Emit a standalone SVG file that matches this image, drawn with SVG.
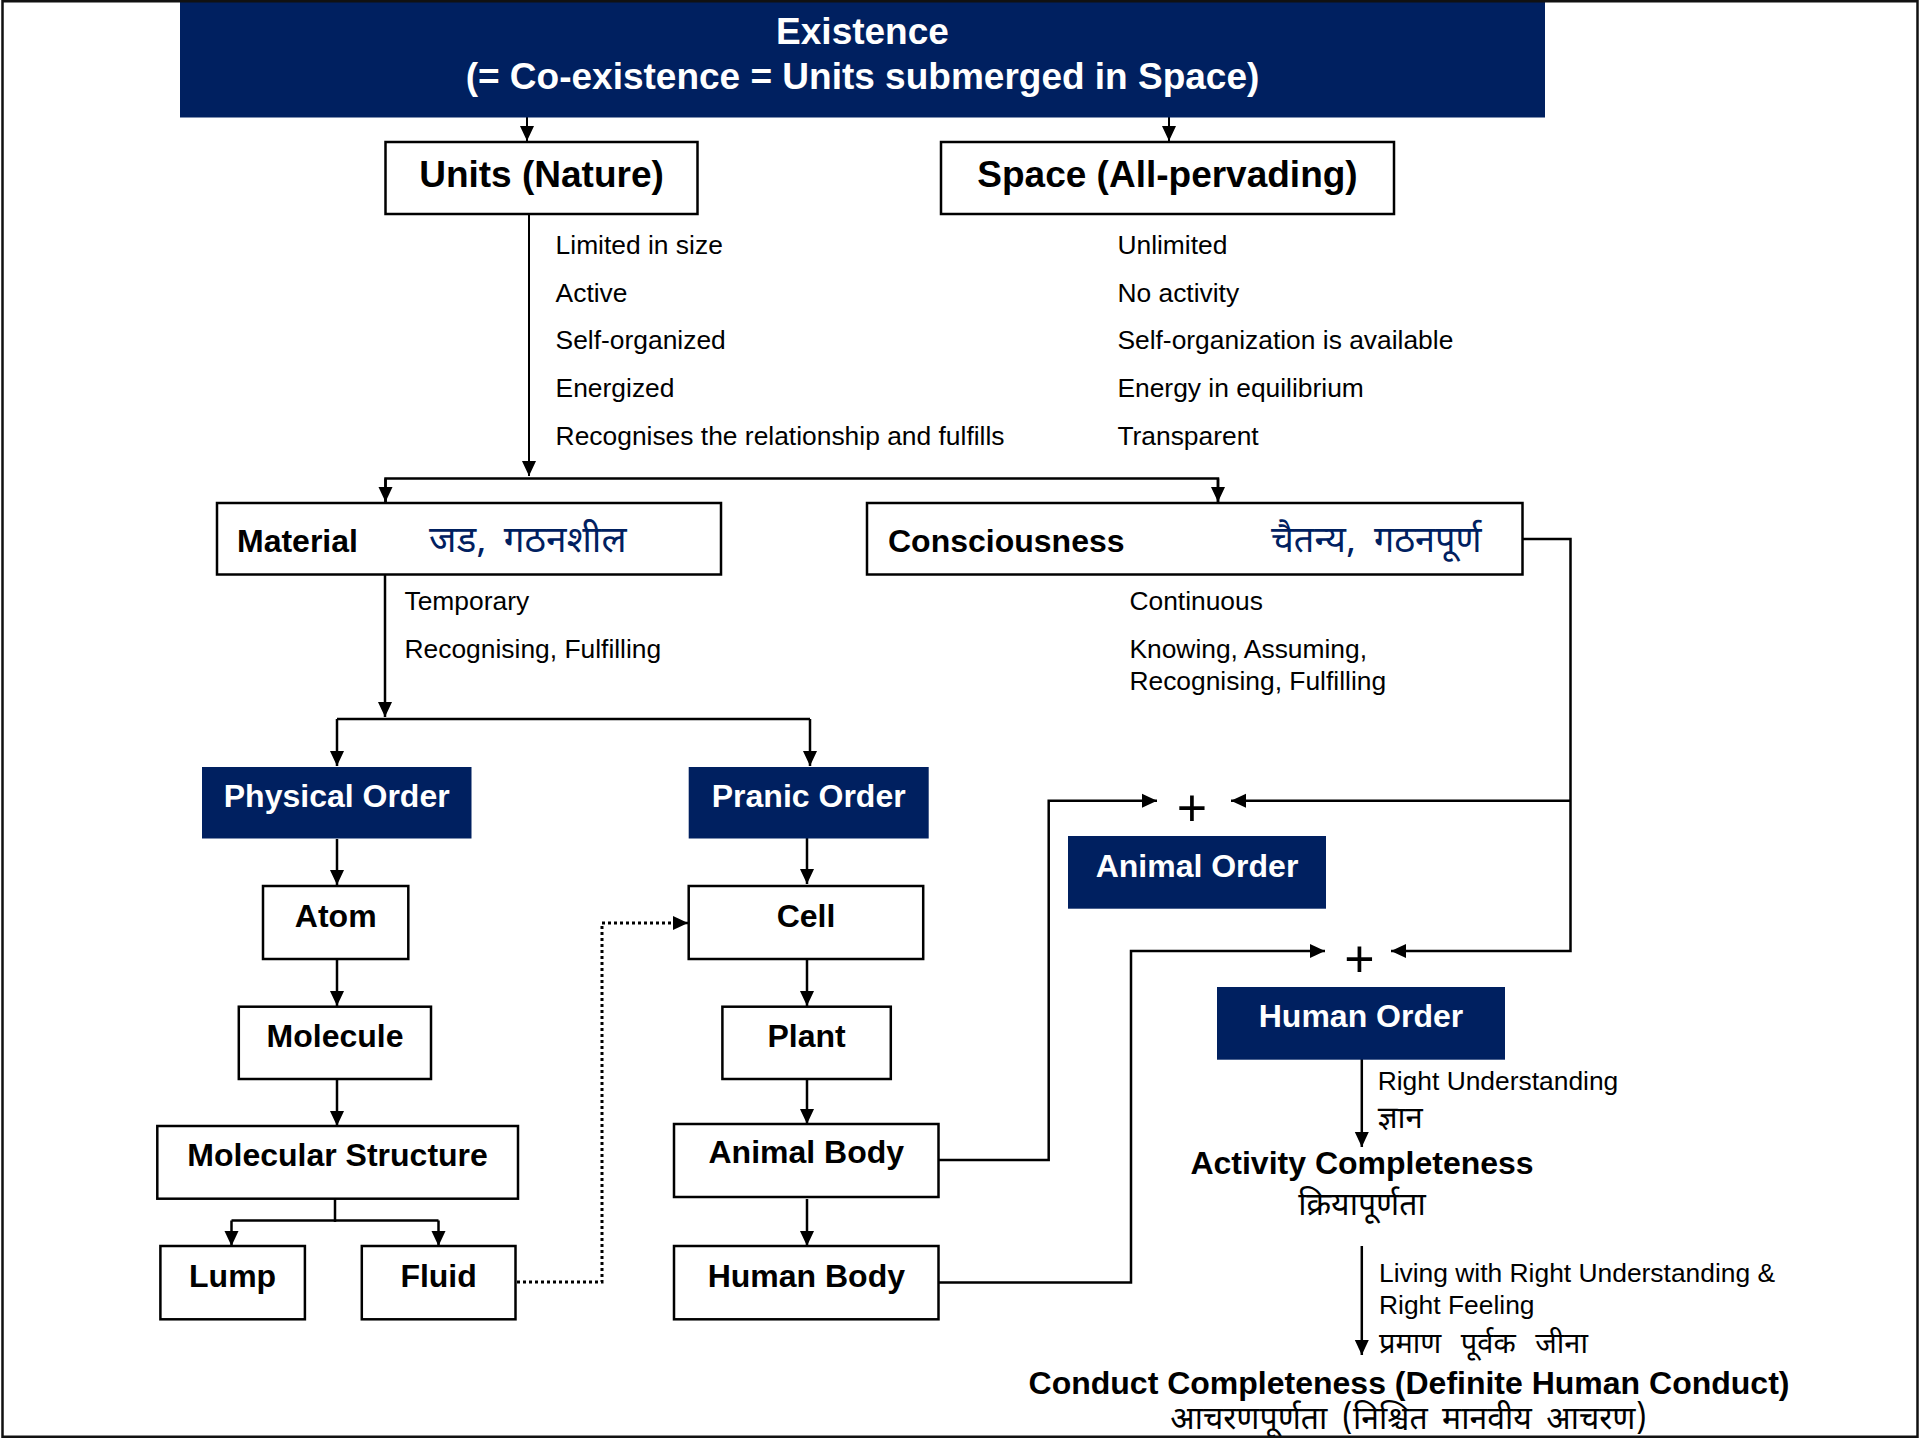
<svg xmlns="http://www.w3.org/2000/svg" width="1919" height="1440" viewBox="0 0 1919 1440">
<defs>
<style>
.box{fill:#fff;stroke:#000;stroke-width:2.5}
.navy{fill:#002060}
.bt{font-family:"Liberation Sans",Arial,sans-serif;font-weight:bold;font-size:32px;fill:#000;text-anchor:middle}
.wt{font-family:"Liberation Sans",Arial,sans-serif;font-weight:bold;font-size:32px;fill:#fff;text-anchor:middle}
.big{font-size:37px}
.lbl{font-family:"Liberation Sans",Arial,sans-serif;font-size:26.4px;fill:#000}
.dev{font-family:"Noto Sans Devanagari","Lohit Devanagari",Mangal,FreeSans,sans-serif;fill:#000}
.devb{fill:#002060}
.ln{fill:none;stroke:#000;stroke-width:2.5}
.thin{stroke-width:2}
.dot{fill:none;stroke:#000;stroke-width:3;stroke-dasharray:3 3}
.plus{font-family:"Liberation Sans",Arial,sans-serif;font-size:52px;fill:#000;text-anchor:middle}
</style>
<marker id="ah" markerUnits="userSpaceOnUse" markerWidth="16" markerHeight="16" viewBox="0 0 16 16" refX="15" refY="8" orient="auto"><path d="M0,1 L15,8 L0,15 z" fill="#000"/></marker>
</defs>
<rect width="1919" height="1440" fill="#fff"/>

<g id="connectors">
<path class="ln thin" d="M527,117 V141" marker-end="url(#ah)"/>
<path class="ln thin" d="M1169,117 V141" marker-end="url(#ah)"/>
<path class="ln thin" d="M529,214 V476" marker-end="url(#ah)"/>
<path class="ln" d="M385.5,502 V478.5 H1218 V502" />
<path class="ln" d="M385.5,478.5 V502" marker-end="url(#ah)"/>
<path class="ln" d="M1218,478.5 V502" marker-end="url(#ah)"/>
<path class="ln" d="M385,575 V717" marker-end="url(#ah)"/>
<path class="ln" d="M337,719 H810"/>
<path class="ln" d="M337,719 V766" marker-end="url(#ah)"/>
<path class="ln" d="M810,719 V766" marker-end="url(#ah)"/>
<path class="ln" d="M337,839 V885" marker-end="url(#ah)"/>
<path class="ln" d="M807,837 V884" marker-end="url(#ah)"/>
<path class="ln" d="M337,959 V1006" marker-end="url(#ah)"/>
<path class="ln" d="M337,1079 V1126" marker-end="url(#ah)"/>
<path class="ln" d="M335,1199 V1222"/>
<path class="ln" d="M231.5,1220.5 H438.5"/>
<path class="ln" d="M231.5,1220.5 V1246" marker-end="url(#ah)"/>
<path class="ln" d="M438.5,1220.5 V1246" marker-end="url(#ah)"/>
<path class="dot" d="M517,1282 H602 V923 H675"/>
<path class="ln" d="M680,923 H688" marker-end="url(#ah)"/>
<path class="ln" d="M807,959 V1006" marker-end="url(#ah)"/>
<path class="ln" d="M807,1079 V1124" marker-end="url(#ah)"/>
<path class="ln" d="M807,1199 V1246" marker-end="url(#ah)"/>
<path class="ln" d="M938.5,1160 H1048.7 V800.7 H1157" marker-end="url(#ah)"/>
<path class="ln" d="M938.5,1282.6 H1131 V951 H1325" marker-end="url(#ah)"/>
<path class="ln" d="M1522.5,539 H1570.5 V951 H1391" marker-end="url(#ah)"/>
<path class="ln" d="M1570.5,800.7 H1231" marker-end="url(#ah)"/>
<path class="ln" d="M1361.8,1038 V1147" marker-end="url(#ah)"/>
<path class="ln" d="M1361.8,1246 V1355" marker-end="url(#ah)"/>
</g>

<g id="existence">
<rect class="navy" x="180" y="0" width="1365" height="117.5"/>
<text class="wt big" x="862.5" y="43.5">Existence</text>
<text class="wt big" x="862.5" y="88.5">(= Co-existence = Units submerged in Space)</text>
</g>

<g id="units">
<rect class="box" x="385.5" y="142" width="312" height="72"/>
<text class="bt big" x="541.5" y="187">Units (Nature)</text>
</g>
<g id="space">
<rect class="box" x="941" y="142" width="453" height="72"/>
<text class="bt big" x="1167.5" y="187">Space (All-pervading)</text>
</g>

<g id="units-props" class="lbl">
<text x="555.6" y="253.5">Limited in size</text>
<text x="555.6" y="301.5">Active</text>
<text x="555.6" y="349">Self-organized</text>
<text x="555.6" y="397">Energized</text>
<text x="555.6" y="444.5">Recognises the relationship and fulfills</text>
</g>
<g id="space-props" class="lbl">
<text x="1117.4" y="253.5">Unlimited</text>
<text x="1117.4" y="301.5">No activity</text>
<text x="1117.4" y="349">Self-organization is available</text>
<text x="1117.4" y="397">Energy in equilibrium</text>
<text x="1117.4" y="444.5">Transparent</text>
</g>

<g id="material">
<rect class="box" x="217" y="503" width="504" height="71.5"/>
<text class="bt" x="237" y="551.5" style="text-anchor:start">Material</text>
<text class="dev devb" x="429" y="551.5" font-size="37" word-spacing="8">जड, गठनशील</text>
</g>
<g id="consciousness">
<rect class="box" x="867" y="503" width="655.5" height="71.5"/>
<text class="bt" x="888" y="551.5" style="text-anchor:start">Consciousness</text>
<text class="dev devb" x="1271" y="551.5" font-size="36" word-spacing="9">चैतन्य, गठनपूर्ण</text>
</g>

<g id="material-props" class="lbl">
<text x="404.5" y="610">Temporary</text>
<text x="404.5" y="658.3">Recognising, Fulfilling</text>
</g>
<g id="consciousness-props" class="lbl">
<text x="1129.4" y="610">Continuous</text>
<text x="1129.4" y="658.3">Knowing, Assuming,</text>
<text x="1129.4" y="690">Recognising, Fulfilling</text>
</g>

<g id="physical-order">
<rect class="navy" x="202" y="767" width="269.5" height="71.5"/>
<text class="wt" x="336.7" y="806.7">Physical Order</text>
</g>
<g id="pranic-order">
<rect class="navy" x="688.7" y="767" width="240" height="71.5"/>
<text class="wt" x="808.7" y="806.7">Pranic Order</text>
</g>
<g id="atom">
<rect class="box" x="263" y="886" width="145.3" height="73"/>
<text class="bt" x="335.7" y="926.7">Atom</text>
</g>
<g id="cell">
<rect class="box" x="688.7" y="886" width="234.5" height="73"/>
<text class="bt" x="806" y="926.7">Cell</text>
</g>
<g id="molecule">
<rect class="box" x="238.8" y="1006.7" width="192.2" height="72.3"/>
<text class="bt" x="335" y="1047.3">Molecule</text>
</g>
<g id="plant">
<rect class="box" x="722.4" y="1006.7" width="168.4" height="72.3"/>
<text class="bt" x="806.6" y="1047.3">Plant</text>
</g>
<g id="molecular-structure">
<rect class="box" x="157.3" y="1126" width="360.7" height="72.7"/>
<text class="bt" x="337.6" y="1165.7">Molecular Structure</text>
</g>
<g id="animal-body">
<rect class="box" x="674" y="1124" width="264.5" height="73"/>
<text class="bt" x="806.3" y="1163.3">Animal Body</text>
</g>
<g id="lump">
<rect class="box" x="160.4" y="1246" width="144.5" height="73.3"/>
<text class="bt" x="232.6" y="1287.3">Lump</text>
</g>
<g id="fluid">
<rect class="box" x="361.8" y="1246" width="153.7" height="73.3"/>
<text class="bt" x="438.6" y="1287.3">Fluid</text>
</g>
<g id="human-body">
<rect class="box" x="674" y="1246" width="264.5" height="73.3"/>
<text class="bt" x="806.3" y="1287.3">Human Body</text>
</g>

<g id="plus-animal"><text class="plus" x="1192" y="825.5">+</text></g>
<g id="animal-order">
<rect class="navy" x="1068" y="836" width="258" height="72.7"/>
<text class="wt" x="1197" y="876.7">Animal Order</text>
</g>
<g id="plus-human"><text class="plus" x="1359.5" y="976.5">+</text></g>
<g id="human-order">
<rect class="navy" x="1217" y="987" width="288" height="72.7"/>
<text class="wt" x="1361" y="1026.7">Human Order</text>
</g>

<g id="human-labels">
<text class="lbl" x="1377.7" y="1090">Right Understanding</text>
<text class="dev" x="1377.7" y="1128" font-size="31">ज्ञान</text>
<text class="bt" x="1362" y="1174">Activity Completeness</text>
<text class="dev" x="1362" y="1215" font-size="32" text-anchor="middle">क्रियापूर्णता</text>
<text class="lbl" x="1379" y="1282">Living with Right Understanding &amp;</text>
<text class="lbl" x="1379" y="1313.5">Right Feeling</text>
<text class="dev" x="1379" y="1353" font-size="29" word-spacing="12">प्रमाण पूर्वक जीना</text>
<text class="bt" x="1409" y="1394">Conduct Completeness (Definite Human Conduct)</text>
<text class="dev" x="1408.5" y="1429" font-size="32" word-spacing="6" text-anchor="middle">आचरणपूर्णता (निश्चित मानवीय आचरण)</text>
</g>

<rect x="2.5" y="1.25" width="1915" height="1435.5" fill="none" stroke="#111" stroke-width="2.5"/>
</svg>
